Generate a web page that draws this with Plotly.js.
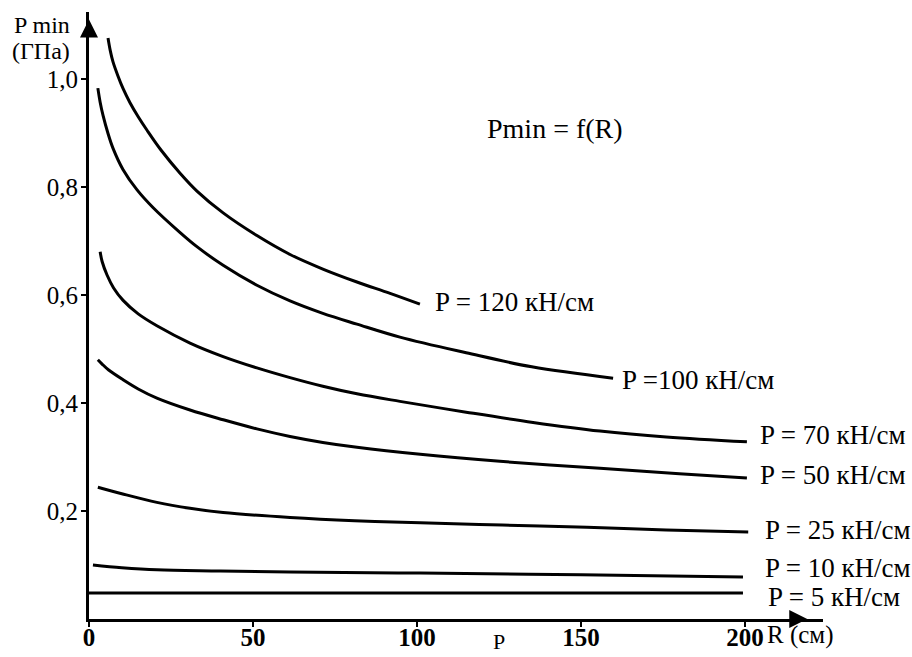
<!DOCTYPE html>
<html>
<head>
<meta charset="utf-8">
<script src="https://cdn.plot.ly/plotly-3.0.1.min.js"></script>
<style>html,body{margin:0;padding:0;background:#fff;}#chart{width:912px;height:657px;}</style>
</head>
<body>
<div id="chart"></div>
<script>
// ---- data (R in cm, Pmin in GPa) ----
var r120 = [5.8, 6.5, 7.3, 8.8, 10.4, 12.5, 15, 17.7, 22, 27.7, 33, 40.9, 51.2, 61.3, 71.3, 81.7, 91.8, 100.9];
var p120 = [1.076, 1.052, 1.032, 1.006, 0.982, 0.956, 0.93, 0.905, 0.868, 0.826, 0.792, 0.752, 0.71, 0.675, 0.648, 0.624, 0.603, 0.583];

var r100 = [2.7, 3.4, 4.3, 5.8, 7.3, 10.4, 14.6, 19.5, 27.7, 33, 40.9, 51.2, 61.3, 71.3, 81.7, 94.8, 115, 135, 159.8];
var p100 = [0.983, 0.957, 0.932, 0.899, 0.872, 0.832, 0.795, 0.762, 0.716, 0.689, 0.655, 0.618, 0.589, 0.566, 0.546, 0.522, 0.493, 0.467, 0.446];

var r70 = [3.4, 4, 5.5, 7.5, 10.4, 15, 20.7, 30.8, 40.9, 51.2, 61.3, 71.3, 81.7, 94.8, 115, 135.4, 155.8, 176, 200.6];
var p70 = [0.68, 0.662, 0.637, 0.613, 0.59, 0.565, 0.543, 0.511, 0.486, 0.465, 0.447, 0.431, 0.417, 0.403, 0.383, 0.364, 0.348, 0.337, 0.328];

var r50 = [2.7, 4, 6, 10.4, 15, 20.7, 30.8, 40.9, 51.2, 61.3, 71.3, 81.7, 101, 125.3, 155.8, 180, 200.6];
var p50 = [0.48, 0.472, 0.461, 0.443, 0.426, 0.409, 0.387, 0.369, 0.352, 0.338, 0.327, 0.318, 0.305, 0.292, 0.279, 0.269, 0.261];

var r25 = [2.7, 10, 20.7, 30.8, 40.9, 61.3, 81, 101, 126, 151.8, 176, 201];
var p25 = [0.244, 0.232, 0.216, 0.205, 0.197, 0.188, 0.182, 0.178, 0.174, 0.170, 0.165, 0.161];

var r10 = [1.2, 10, 20.7, 40, 61.3, 101, 150, 199.4];
var p10 = [0.1, 0.095, 0.091, 0.089, 0.087, 0.085, 0.082, 0.078];

var r5 = [0, 199.4];
var p5 = [0.048, 0.048];

var curveLabels = ["P = 120 кН/см", "P =100 кН/см", "P = 70 кН/см", "P = 50 кН/см", "P = 25 кН/см", "P = 10 кН/см", "P = 5 кН/см"];
var xTickVals = [0, 50, 100, 150, 200];
var xTickText = ["0", "50", "100", "150", "200"];
var yTickVals = [0.2, 0.4, 0.6, 0.8, 1.0];
var yTickText = ["0,2", "0,4", "0,6", "0,8", "1,0"];
var yTitleLines = ["P min", "(ГПа)"];
var xTitle = "R (см)";
var chartTitle = "Pmin = f(R)";
var strayLabel = "P";

// ---- build ----
var X_MAX = 223.8, Y_MAX = 1.124;
var series = [[r120,p120],[r100,p100],[r70,p70],[r50,p50],[r25,p25],[r10,p10],[r5,p5]];
var traces = series.map(function(s, i){
  return {x: s[0], y: s[1], mode: 'lines', type: 'scatter', name: curveLabels[i],
          line: {color: '#000', width: 3, shape: 'spline', smoothing: 1}, hoverinfo: 'skip'};
});

var serif = '"Liberation Serif", "Times New Roman", serif';
function f(sz){ return {family: serif, size: sz, color: '#000'}; }
// label positions (data coords of left edge, vertical middle)
var labelPos = [[105, 0.587], [162, 0.442], [204, 0.340], [204, 0.267], [205.5, 0.165], [205.5, 0.094], [206.5, 0.041]];
var ann = labelPos.map(function(p, i){
  return {x: p[0], y: p[1], xref: 'x', yref: 'y', text: curveLabels[i], showarrow: false,
          xanchor: 'left', yanchor: 'middle', font: f(27)};
});
ann.push({x: 142 / X_MAX, y: 0.909 / Y_MAX, xref: 'paper', yref: 'paper', text: chartTitle, showarrow: false,
          xanchor: 'center', yanchor: 'middle', font: f(28)});
// y axis title (two lines, top-left)
ann.push({x: -0.105, y: 0.979, xref: 'paper', yref: 'paper', text: yTitleLines[0], showarrow: false,
          xanchor: 'left', yanchor: 'middle', font: f(24)});
ann.push({x: -0.107, y: 0.936, xref: 'paper', yref: 'paper', text: yTitleLines[1], showarrow: false,
          xanchor: 'left', yanchor: 'middle', font: f(24)});
// x axis title
ann.push({x: 206 / X_MAX, y: -0.029 / Y_MAX, xref: 'paper', yref: 'paper', text: xTitle, showarrow: false,
          xanchor: 'left', yanchor: 'middle', font: f(25)});
// stray P under the axis
ann.push({x: 125 / X_MAX, y: -0.042 / Y_MAX, xref: 'paper', yref: 'paper', text: strayLabel, showarrow: false,
          xanchor: 'center', yanchor: 'middle', font: f(22)});
// axis arrows
ann.push({x: 0, y: 1.11, xref: 'x', yref: 'y', ax: 0, ay: 16, showarrow: true, text: '',
          arrowhead: 2, arrowsize: 1.2, arrowwidth: 3, arrowcolor: '#000'});
ann.push({x: 219, y: 0, xref: 'x', yref: 'y', ax: -16, ay: 0, showarrow: true, text: '',
          arrowhead: 2, arrowsize: 1.2, arrowwidth: 3, arrowcolor: '#000'});

var layout = {
  width: 912, height: 657,
  margin: {l: 89, r: 89, t: 12, b: 38},
  paper_bgcolor: '#fff', plot_bgcolor: '#fff',
  showlegend: false,
  xaxis: {range: [0, X_MAX], showgrid: false, zeroline: false, showline: true, linewidth: 3, linecolor: '#000',
          tickmode: 'array', tickvals: xTickVals, ticktext: xTickText, ticks: 'outside', ticklen: 5, tickwidth: 2,
          tickcolor: '#000', ticklabelstandoff: -11,
          tickfont: {family: serif, size: 25, color: '#000', weight: 'bold'}},
  yaxis: {range: [0, Y_MAX], showgrid: false, zeroline: false, showline: true, linewidth: 3, linecolor: '#000',
          tickmode: 'array', tickvals: yTickVals, ticktext: yTickText, ticks: 'outside', ticklen: 5, tickwidth: 2,
          tickcolor: '#000', ticklabelstandoff: -2, tickfont: f(25)},
  annotations: ann
};
Plotly.newPlot('chart', traces, layout, {staticPlot: true});
</script>
</body>
</html>
